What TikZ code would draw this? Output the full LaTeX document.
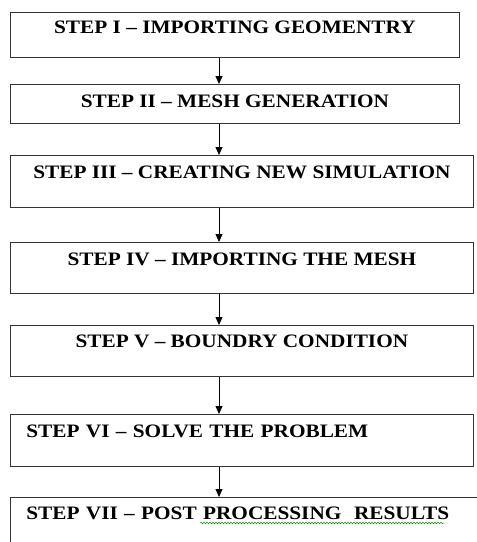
\documentclass[tikz,border=0pt]{standalone}
\usepackage{fontspec}
\setmainfont[FakeStretch=1.12]{Liberation Serif}
\usetikzlibrary{arrows.meta,decorations.pathmorphing}
\begin{document}
\begin{tikzpicture}[x=1pt,y=-1pt,
  stepbox/.style={draw=black!80,line width=0.8pt,anchor=north west,inner ysep=0pt,inner xsep=0pt,
    font=\fontsize{19}{21}\selectfont\bfseries},
  leftbox/.style={stepbox,inner xsep=16pt,align=left},
  flow/.style={-{Triangle[length=8pt,width=7pt]},line width=0.8pt,black}]
\useasboundingbox (0,0) rectangle (477,542);
\clip (0,0) rectangle (477,542);
\coordinate (ax) at (219,0);
\node[stepbox,minimum width=449pt,text height=21pt,text depth=24pt] (b1) at (10,12) {STEP I -- IMPORTING GEOMENTRY};
\node[stepbox,minimum width=449pt,text height=23pt,text depth=16pt] (b2) at (10,84) {STEP II -- MESH GENERATION};
\node[stepbox,minimum width=463pt,text height=23pt,text depth=29pt] (b3) at (10,155) {STEP III -- CREATING NEW SIMULATION};
\node[stepbox,minimum width=463pt,text height=23pt,text depth=28pt] (b4) at (10,242) {STEP IV -- IMPORTING THE MESH};
\node[stepbox,minimum width=463pt,text height=22pt,text depth=29pt] (b5) at (10,325) {STEP V -- BOUNDRY CONDITION};
\node[leftbox,text width=431pt,text height=23pt,text depth=29pt] (b6) at (10,414) {STEP VI -- SOLVE THE PROBLEM};
\node[leftbox,text width=448pt,text height=22pt,text depth=41pt] (b7) at (10,497) {STEP VII -- POST PROCESSING\ \ RESULTS};
\draw[flow] (b1.south -| ax) -- (b2.north -| ax);
\draw[flow] (b2.south -| ax) -- (b3.north -| ax);
\draw[flow] (b3.south -| ax) -- (b4.north -| ax);
\draw[flow] (b4.south -| ax) -- (b5.north -| ax);
\draw[flow] (b5.south -| ax) -- (b6.north -| ax);
\draw[flow] (b6.south -| ax) -- (b7.north -| ax);
\coordinate (sqa) at (200,523);
\coordinate (sqb) at (444,523);
\draw[green!60!black,line width=0.5pt,decorate,decoration={snake,amplitude=0.8pt,segment length=3pt}] (sqa) -- (sqb);
\end{tikzpicture}
\end{document}
